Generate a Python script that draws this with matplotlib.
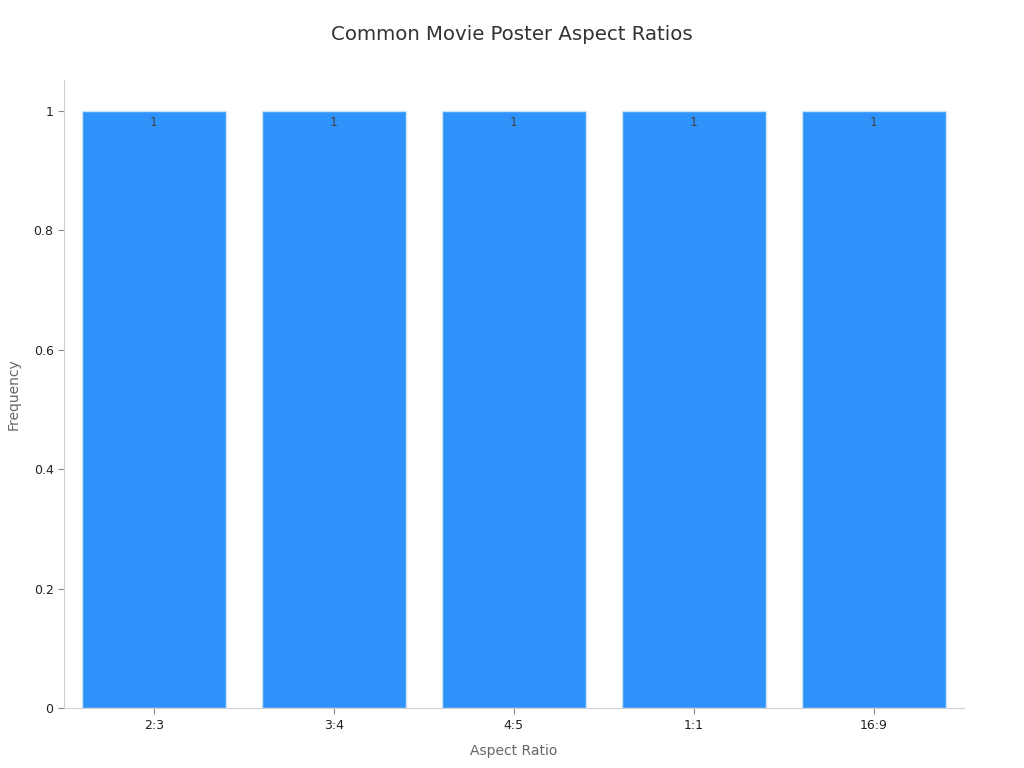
import matplotlib.pyplot as plt

# Aspect ratio counts
ratios = ["2:3", "3:4", "4:5", "1:1", "16:9"]
counts = [1, 1, 1, 1, 1]
ytick_vals = [0, 0.2, 0.4, 0.6, 0.8, 1]
ytick_labels = ["0", "0.2", "0.4", "0.6", "0.8", "1"]

fig = plt.figure(figsize=(10.24, 7.68), dpi=100)
ax = fig.add_axes([0.0625, 0.078, 0.8785, 0.818])

bars = ax.bar(range(len(ratios)), counts, width=0.8, color="#2E93FA",
              edgecolor="#cfe3f7", linewidth=1)
for b, v in zip(bars, counts):
    ax.text(b.get_x() + b.get_width() / 2, v - 0.008, f"{v}", ha="center",
            va="top", fontsize=9, color="#444444")

ax.set_xlim(-0.5, len(ratios) - 0.5)
ax.set_ylim(0, 1.052)
ax.set_xticks(range(len(ratios)))
ax.set_xticklabels(ratios, fontsize=9, color="#222222")
ax.set_yticks(ytick_vals)
ax.set_yticklabels(ytick_labels, fontsize=9, color="#222222")
ax.tick_params(axis="both", colors="#888888", labelcolor="#222222", length=4)

for side in ["top", "right"]:
    ax.spines[side].set_visible(False)
for side in ["left", "bottom"]:
    ax.spines[side].set_color("#d0d0d0")

ax.set_xlabel("Aspect Ratio", fontsize=10, color="#666666", labelpad=9)
ax.set_ylabel("Frequency", fontsize=10, color="#666666", labelpad=9)
fig.suptitle("Common Movie Poster Aspect Ratios", fontsize=14.2, color="#333333", y=0.968)

fig.savefig("out.png", dpi=100)
